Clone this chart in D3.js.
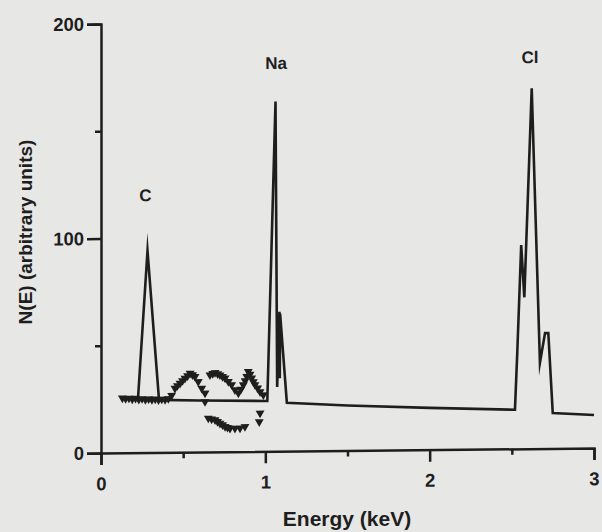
<!DOCTYPE html>
<html>
<head>
<meta charset="utf-8">
<script src="https://cdn.jsdelivr.net/npm/d3@7"></script>
<style>
  html, body { margin: 0; padding: 0; background: #e7e7e5; }
  svg { display: block; }
  text { font-family: "Liberation Sans", Arial, sans-serif; fill: #1e1e1e; }
</style>
</head>
<body>
<script>
// ---- data ----
const lineEnergy = [0.12, 0.225, 0.283, 0.353, 0.6, 1.0, 1.012, 1.062, 1.072, 1.086, 1.088, 1.090, 1.131, 1.5, 2.0, 2.519, 2.533, 2.557, 2.576, 2.621, 2.671, 2.702, 2.722, 2.749, 3.0];
const lineCounts = [25.5, 25, 94, 24.5, 24, 23.5, 23.5, 163, 30, 65, 34, 64, 22.5, 21, 19.5, 18.2, 44.7, 95, 70.6, 168, 40, 53.8, 53.8, 16.5, 15.4];

const markerEnergy = [0.13, 0.15, 0.17, 0.19, 0.21, 0.23, 0.25, 0.27, 0.29, 0.31, 0.33, 0.35, 0.37, 0.39, 0.41, 0.43,
  0.45, 0.465, 0.481, 0.496, 0.511, 0.527, 0.542, 0.557, 0.572, 0.592, 0.613, 0.633, 0.633,
  0.663, 0.68, 0.694, 0.71, 0.724, 0.74, 0.755, 0.775, 0.795, 0.815, 0.836, 0.851, 0.866, 0.877, 0.887, 0.896, 0.907, 0.917, 0.927, 0.937, 0.953, 0.968, 0.988,
  0.653, 0.673, 0.694, 0.709, 0.724, 0.74, 0.755, 0.77, 0.785, 0.815, 0.846, 0.876, 0.968, 0.963];
const markerCounts = [25.5, 25.2, 25.4, 25.0, 25.3, 24.8, 25.1, 24.7, 25.0, 24.6, 24.9, 24.5, 24.8, 24.6, 25.0, 26.5,
  29.8, 31, 32.1, 33.3, 34.4, 35.6, 36.7, 36, 35.2, 32.8, 29.7, 27.4, 23.4,
  35.9, 36.5, 36.9, 36.3, 35.8, 35, 34.3, 32.7, 31.2, 28.8, 27.3, 29, 31.1, 33, 35, 37.3, 36, 34.2, 32.5, 31.1, 29.5, 27.8, 26.3,
  15.7, 15.3, 14.9, 14.1, 13.3, 12.5, 11.7, 11.3, 10.9, 10.9, 10.9, 11.6, 17.8, 13.8];

const peakLabels = ["C", "Na", "Cl"];
const peakLabelEnergy = [0.27, 1.065, 2.61];
const peakLabelCounts = [120, 181, 182.5];

const xMajorTicks = [0, 1, 2, 3];
const xMinorTicks = [0.5, 1.5, 2.5];
const yMajorTicks = [0, 100, 200];
const yMinorTicks = [50, 150];
const xTitle = "Energy (keV)";
const yTitle = "N(E) (arbitrary units)";

// ---- chart ----
const W = 602, H = 532;
const svg = d3.select("body").append("svg").attr("width", W).attr("height", H);
svg.append("rect").attr("width", W).attr("height", H).attr("fill", "#e7e7e5");

const x = d3.scaleLinear().domain([0, 3]).range([101, 594]);
const y = d3.scaleLinear().domain([0, 200]).range([453, 24]);

const t = -0.0101; // slight scan tilt
const g = svg.append("g").attr("transform", `matrix(1,${t},0,1,0,${-t * 101})`);
const ink = "#1e1e1e";

// axes
const xAxis = g.append("g").attr("class", "xaxis").attr("transform", `translate(0,${y(0)})`)
  .call(d3.axisBottom(x).tickValues(xMajorTicks).tickSize(12).tickSizeOuter(12).tickPadding(12).tickFormat(d3.format("d")));
const xMinor = g.append("g").attr("class", "xminor").attr("transform", `translate(0,${y(0)})`)
  .call(d3.axisBottom(x).tickValues(xMinorTicks).tickSize(6).tickFormat(""));
xMinor.select(".domain").remove();

const yAxis = g.append("g").attr("transform", `translate(${x(0)},0)`)
  .call(d3.axisLeft(y).tickValues(yMajorTicks).tickSize(14).tickSizeOuter(14).tickPadding(3).tickFormat(d3.format("d")));
const yMinor = g.append("g").attr("transform", `translate(${x(0)},0)`)
  .call(d3.axisLeft(y).tickValues(yMinorTicks).tickSize(6).tickFormat(""));
yMinor.select(".domain").remove();

g.selectAll(".domain, .tick line").attr("stroke", ink).attr("stroke-width", 2.5);
g.selectAll(".tick text").attr("font-size", 18.5).attr("font-weight", "bold")
  .attr("font-family", '"Liberation Sans", Arial, sans-serif').attr("fill", ink);

// spectrum line
const pts = lineEnergy.map((e, i) => [e, lineCounts[i]]);
g.append("path").datum(pts)
  .attr("d", d3.line().x(d => x(d[0])).y(d => y(d[1])))
  .attr("fill", "none").attr("stroke", ink).attr("stroke-width", 2.6).attr("stroke-linejoin", "miter").attr("stroke-miterlimit", 20);

// markers
const tri = d3.symbol().type(d3.symbolTriangle).size(34);
g.selectAll(".mk").data(markerEnergy.map((e, i) => [e, markerCounts[i]])).enter().append("path")
  .attr("class", "mk")
  .attr("d", tri)
  .attr("transform", d => `translate(${x(d[0])},${y(d[1])}) rotate(180)`)
  .attr("fill", ink);

// peak labels
g.selectAll(".pk").data(peakLabels).enter().append("text")
  .attr("class", "pk")
  .attr("x", (d, i) => x(peakLabelEnergy[i]))
  .attr("y", (d, i) => y(peakLabelCounts[i]))
  .attr("text-anchor", "middle").attr("dy", "0.35em")
  .attr("font-size", 17).attr("font-weight", "bold")
  .text(d => d);

// titles
svg.append("text").attr("x", 347).attr("y", 526).attr("text-anchor", "middle")
  .attr("font-size", 21).attr("font-weight", "bold").text(xTitle);
svg.append("text").attr("transform", "translate(32,232) rotate(-90)").attr("text-anchor", "middle")
  .attr("font-size", 19).attr("font-weight", "bold").text(yTitle);
</script>
</body>
</html>
